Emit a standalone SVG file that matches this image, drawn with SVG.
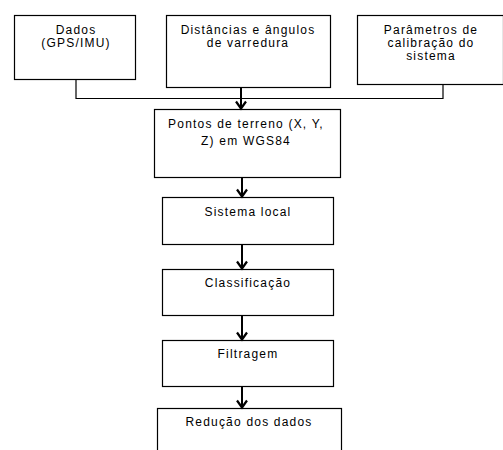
<svg xmlns="http://www.w3.org/2000/svg" width="503" height="450" viewBox="0 0 503 450">
<defs>
<style>
.box{fill:#fff;stroke:#000;stroke-width:1.2}
.t{font-family:"Liberation Sans",Arial,sans-serif;font-size:12px;fill:#000;text-anchor:middle;letter-spacing:1.2px}
.ln{fill:none;stroke:#000;stroke-width:1.2}
.ar{fill:none;stroke:#000;stroke-width:2}
</style>
<marker id="ah" markerWidth="14" markerHeight="14" refX="7" refY="11" markerUnits="userSpaceOnUse" viewBox="0 0 14 14">
<path d="M2,4 L7,11 L12,4" fill="none" stroke="#000" stroke-width="2.2"/>
</marker>
</defs>
<rect width="503" height="450" fill="#fff"/>
<g id="n1"><rect class="box" x="14.5" y="15.5" width="121" height="64"/><text class="t" x="76" y="34">Dados</text><text class="t" x="76" y="47">(GPS/IMU)</text></g>
<g id="n2"><rect class="box" x="166.5" y="15.5" width="164" height="72"/><text class="t" x="248" y="34">Distâncias e ângulos</text><text class="t" x="248" y="47">de varredura</text></g>
<g id="n3"><rect class="box" x="357.5" y="15.5" width="146" height="69"/><text class="t" x="431" y="34">Parâmetros de</text><text class="t" x="431" y="47">calibração do</text><text class="t" x="431" y="60">sistema</text></g>
<g id="n4"><rect class="box" x="154.5" y="109.5" width="186" height="68"/><text class="t" x="246" y="128">Pontos de terreno (X, Y,</text><text class="t" x="246" y="145">Z) em WGS84</text></g>
<g id="n5"><rect class="box" x="162.5" y="197.5" width="171" height="47"/><text class="t" x="248" y="216">Sistema local</text></g>
<g id="n6"><rect class="box" x="162.5" y="269.5" width="171" height="46"/><text class="t" x="248" y="287">Classificação</text></g>
<g id="n7"><rect class="box" x="162.5" y="340.5" width="171" height="46"/><text class="t" x="248" y="358">Filtragem</text></g>
<g id="n8"><rect class="box" x="157.5" y="408.5" width="184" height="50"/><text class="t" x="249" y="426">Redução dos dados</text></g>
<g id="connectors">
<path class="ln" d="M76,79.5 V98.5 H443 V84.5"/>
<line class="ar" x1="241" y1="87.5" x2="241" y2="108.5" marker-end="url(#ah)"/>
<line class="ar" x1="242" y1="177.5" x2="242" y2="196.5" marker-end="url(#ah)"/>
<line class="ar" x1="242" y1="244.5" x2="242" y2="268.5" marker-end="url(#ah)"/>
<line class="ar" x1="242" y1="315.5" x2="242" y2="339.5" marker-end="url(#ah)"/>
<line class="ar" x1="242" y1="386.5" x2="242" y2="407.5" marker-end="url(#ah)"/>
</g>
</svg>
